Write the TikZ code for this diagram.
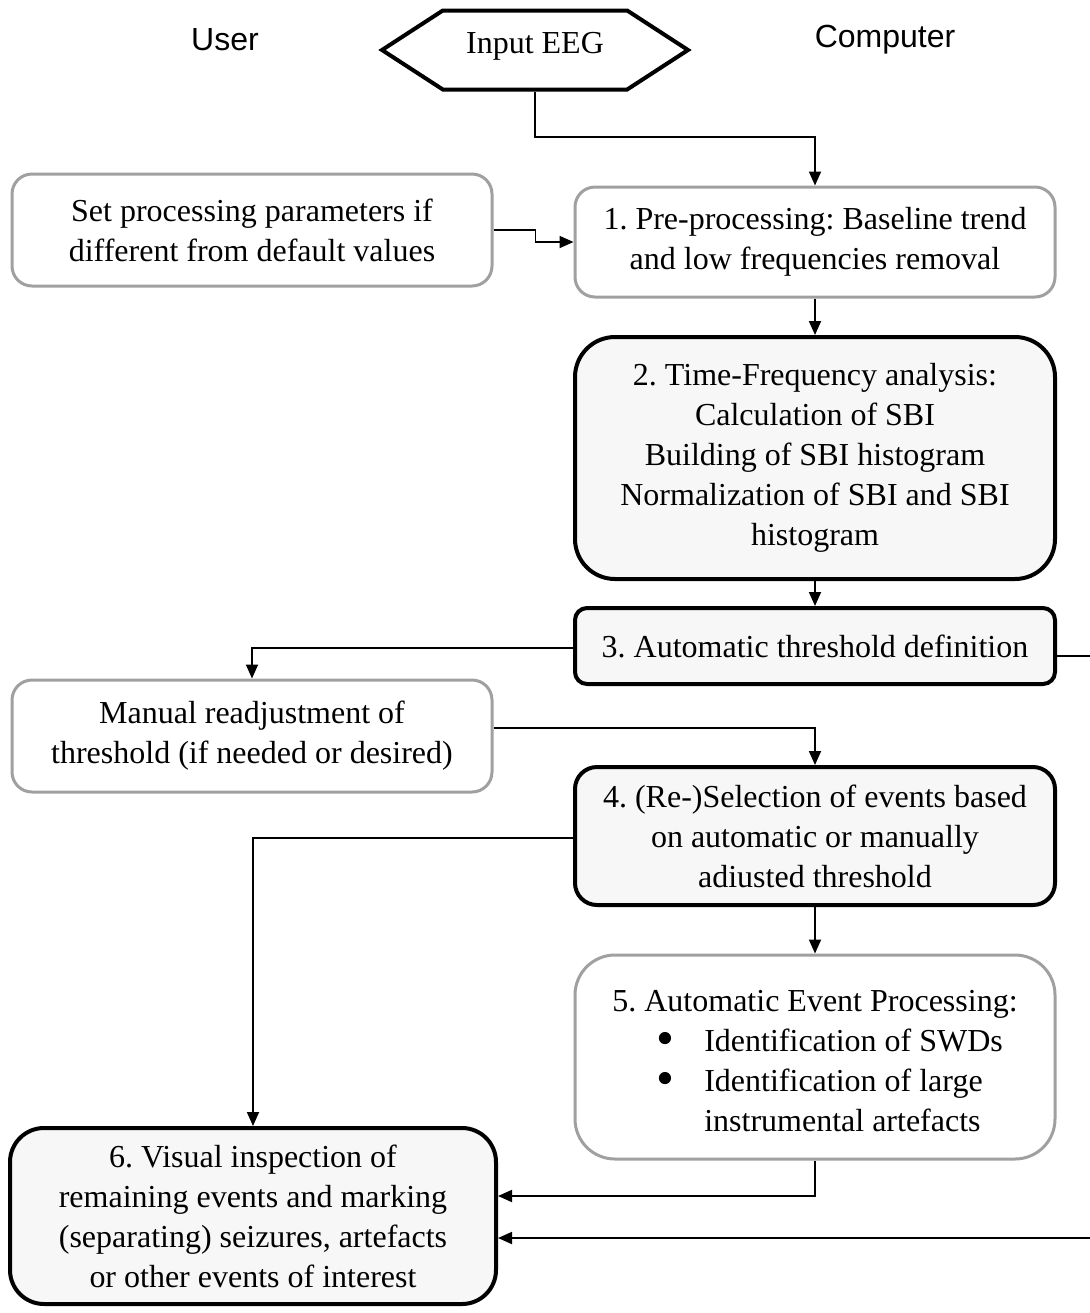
\documentclass[tikz,border=0pt]{standalone}
\usepackage{fontspec}
\setmainfont{Liberation Serif}
\newfontfamily\arialfont{Liberation Sans}
\usepackage{xcolor}
\usetikzlibrary{arrows.meta,positioning,calc,shapes.symbols}
\definecolor{ugrey}{HTML}{A0A0A0}
\definecolor{cfill}{HTML}{F7F7F7}
\newcommand{\bigbul}{\raisebox{-2.2pt}[0pt][0pt]{\scalebox{1.6}{\textbullet}}}
\tikzset{
  side/.style  = {font=\arialfont\fontsize{16}{18}\selectfont, inner sep=0pt},
  ubox/.style  = {rectangle, rounded corners=10pt, draw=ugrey, line width=1.5pt,
                  fill=white, minimum width=240pt, align=center,
                  font=\fontsize{16}{20}\selectfont},
  cbox/.style  = {rectangle, rounded corners=10pt, draw=black, line width=2pt,
                  fill=cfill, minimum width=240pt, align=center,
                  font=\fontsize{16}{20}\selectfont},
  hexa/.style  = {signal, signal to=west and east, signal pointer angle=66,
                  draw=black, line width=2pt, fill=white, minimum width=153pt,
                  minimum height=39.5pt, text depth=7.5pt,
                  font=\fontsize{16}{20}\selectfont},
  ed/.style    = {-{Triangle[length=7pt,width=6pt]}, line width=0.9pt},
}

\begin{document}
\frenchspacing
\begin{tikzpicture}[x=0.5pt, y=-0.5pt]
  \useasboundingbox (0,0) rectangle (1089,1313);
  \node[side] (usr) at (225,40) {User};
  \node[side] (cmp) at (885,40) {Computer};
  \node[hexa] (inp) at (535,50) {Input EEG};
  \coordinate (bend) at (0,137);
  % user side
  \node[ubox, minimum height=56pt] (setp) at (252,230)
       {Set processing parameters if\\ different from default values};
  \node[ubox, minimum height=56pt] (man) at (252,736)
       {Manual readjustment of\\ threshold (if needed or desired)};
  \node[cbox, rounded corners=17pt, minimum width=243pt, minimum height=88pt] (vis) at (253,1216)
       {6. Visual inspection of\\ remaining events and marking\\
        (separating) seizures, artefacts\\ or other events of interest};
  % computer side
  \node[ubox, minimum height=55pt] (pre) at (815,242)
       {1. Pre-processing: Baseline trend\\ and low frequencies removal};
  \node[cbox, rounded corners=20pt, minimum height=121pt] (tfa) at (815,458)
       {2. Time-Frequency analysis:\\ Calculation of SBI\\ Building of SBI histogram\\
        Normalization of SBI and SBI\\ histogram};
  \node[cbox, rounded corners=6pt, minimum height=38pt] (thr) at (815,646)
       {3. Automatic threshold definition};
  \node[cbox, rounded corners=11pt, minimum height=69pt] (sel) at (815,836)
       {4. (Re-)Selection of events based\\ on automatic or manually\\ adiusted threshold};
  \node[ubox, rounded corners=20pt, minimum height=102pt] (evp) at (815,1057)
       {\begin{tabular}{@{}l@{}}
        5. Automatic Event Processing:\\
        \begin{tabular}{@{\hspace{22pt}}l@{\hspace{15pt}}l@{}}
        \bigbul & Identification of SWDs\\
        \bigbul & Identification of large\\
                & instrumental artefacts\\[-6pt]
        \end{tabular}
        \end{tabular}};
  % connectors
  \draw[ed] (inp.south) -- (inp.south |- bend) -| (pre.north);
  \draw[ed] (setp.east) -- ++(42,0) |- (pre.west);
  \draw[ed] (pre) -- (tfa);
  \draw[ed] (tfa) -- (thr);
  \draw[ed] ([yshift=-1pt]thr.west) -| (man.north);
  \draw[ed] ([yshift=-5pt]thr.east) -- ++(60,0) |- ([yshift=-11pt]vis.east);
  \draw[ed] ([yshift=4pt]man.east) -| (sel.north);
  \draw[ed] ([yshift=-1pt]sel.west) -| (vis.north);
  \draw[ed] (sel) -- (evp);
  \draw[ed] (evp.south) |- ([yshift=10pt]vis.east);
\end{tikzpicture}
\end{document}
